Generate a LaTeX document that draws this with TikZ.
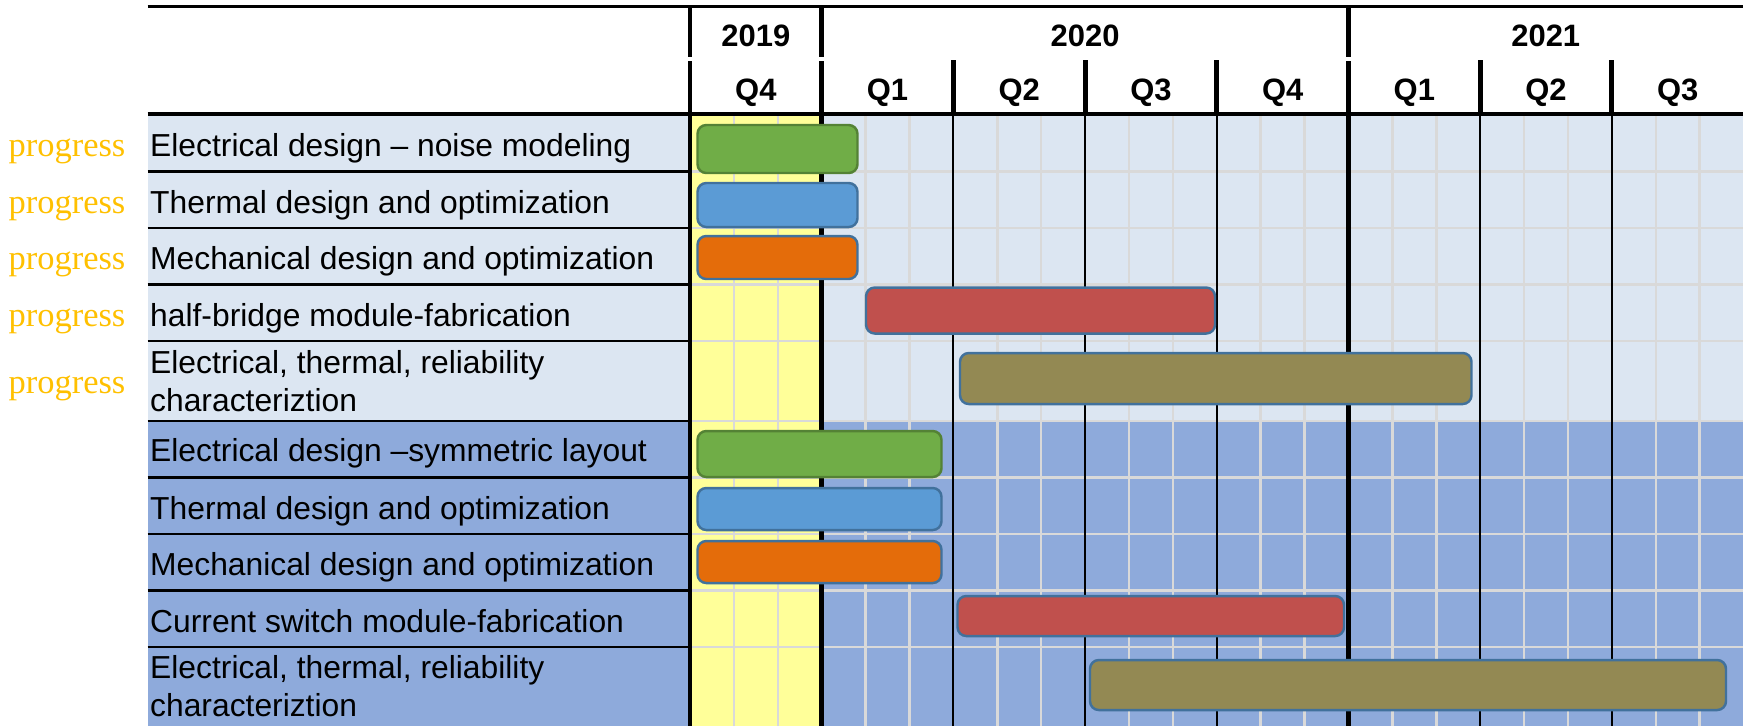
\documentclass[tikz,border=0pt]{standalone}
\usepackage{fontspec}
\setmainfont{Liberation Sans}
\newfontfamily\progfont{Liberation Serif}
\usetikzlibrary{positioning}

\definecolor{rowlight}{HTML}{DCE6F2}
\definecolor{rowdark}{HTML}{8EAADB}
\definecolor{yrcol}{HTML}{FFFF99}
\definecolor{gridgray}{HTML}{D9D9D9}
\definecolor{gold}{HTML}{FFC000}
\definecolor{bargreen}{HTML}{70AD47}
\definecolor{barblue}{HTML}{5B9BD5}
\definecolor{barorange}{HTML}{E46C0A}
\definecolor{barred}{HTML}{C0504D}
\definecolor{barolive}{HTML}{938953}
\definecolor{edgeblue}{HTML}{41719C}
\definecolor{edgegreen}{HTML}{548235}

\tikzset{
  bar/.style={draw=edgeblue, line width=0.7pt, rounded corners=2.5pt},
  task/.style={anchor=base west, inner sep=0pt, align=left,
    font=\fontsize{9.05}{10.9}\selectfont},
  prog/.style={anchor=base west, inner sep=0pt, text=gold,
    font=\progfont\fontsize{9.8}{11}\selectfont},
  head/.style={anchor=base, inner sep=0pt,
    font=\bfseries\fontsize{8.8}{10.9}\selectfont},
}

\begin{document}
\begin{tikzpicture}
    \useasboundingbox (0,0) rectangle (17.43,-7.26);

    % row bands and the 2019 column
    \fill[rowlight] (1.475,-1.15) rectangle (17.43,-4.21);
    \fill[rowdark] (1.475,-4.21) rectangle (17.43,-7.26);
    \fill[yrcol] (6.9,-1.15) rectangle (8.217,-7.26);

    % month grid
    \foreach \m in {1,2,4,5,7,8,10,11,13,14,16,17,19,20,22,23}
        \draw[gridgray, line width=0.7pt] (6.9+0.439*\m,-1.15) -- (6.9+0.439*\m,-7.26);
    \foreach \y in {1.715,2.28,2.845,3.41,4.21,4.775,5.34,5.905,6.47} {
        \draw[gridgray, line width=0.8pt] (6.9,-\y) -- (17.43,-\y);
        \draw[line width=0.7pt] (1.475,-\y) -- (6.9,-\y);
    }

    % quarter lines
    \foreach \i in {2,3,4,6,7} {
        \draw[line width=0.6pt] (6.9+1.317*\i,-1.15) -- (6.9+1.317*\i,-7.26);
        \draw[line width=1.4pt] (6.9+1.317*\i,-0.60) -- (6.9+1.317*\i,-1.15);
    }
    % year lines
    \foreach \i in {0,1,5} {
        \draw[line width=1.4pt] (6.9+1.317*\i,-0.065) -- (6.9+1.317*\i,-0.573);
        \draw[line width=1.4pt] (6.9+1.317*\i,-0.61) -- (6.9+1.317*\i,-7.26);
    }
    \draw[line width=0.85pt] (1.475,-0.065) -- (17.43,-0.065);
    \draw[line width=1.15pt] (1.475,-1.14) -- (17.43,-1.14);

    % header
    \node[head] (y2019) at (7.5585,-0.467) {2019};
    \node[head] (y2020) at (10.851,-0.467) {2020};
    \node[head] (y2021) at (15.4575,-0.467) {2021};
    \foreach \q [count=\i from 0] in {Q4,Q1,Q2,Q3,Q4,Q1,Q2,Q3}
        \node[head] (q\i) at (7.5585+1.317*\i,-1.0) {\q};

    % tasks
    \node[task] (task1) at (1.495,-1.567) {Electrical design -- noise modeling};
    \node[task] (task2) at (1.495,-2.133) {Thermal design and optimization};
    \node[task] (task3) at (1.495,-2.698) {Mechanical design and optimization};
    \node[task] (task4) at (1.495,-3.265) {half-bridge module-fabrication};
    \node[task] (task5) at (1.495,-4.117) {Electrical, thermal, reliability\\characteriztion};
    \node[task] (task6) at (1.495,-4.617) {Electrical design --symmetric layout};
    \node[task] (task7) at (1.495,-5.19) {Thermal design and optimization};
    \node[task] (task8) at (1.495,-5.755) {Mechanical design and optimization};
    \node[task] (task9) at (1.495,-6.32) {Current switch module-fabrication};
    \node[task] (task10) at (1.495,-7.167) {Electrical, thermal, reliability\\characteriztion};

    \foreach \y [count=\i] in {1.567,2.133,2.698,3.265,3.933}
        \node[prog] (prog\i) at (0.08,-\y) {progress};

    % bars
    \draw[bar, fill=bargreen, draw=edgegreen] (6.975,-1.25) rectangle (8.575,-1.73);
    \draw[bar, fill=barblue] (6.975,-1.83) rectangle (8.575,-2.27);
    \draw[bar, fill=barorange] (6.975,-2.36) rectangle (8.575,-2.79);
    \draw[bar, fill=barred] (8.66,-2.875) rectangle (12.15,-3.335);
    \draw[bar, fill=barolive] (9.6,-3.53) rectangle (14.715,-4.04);
    \draw[bar, fill=bargreen, draw=edgegreen] (6.975,-4.31) rectangle (9.415,-4.77);
    \draw[bar, fill=barblue] (6.975,-4.88) rectangle (9.415,-5.30);
    \draw[bar, fill=barorange] (6.975,-5.41) rectangle (9.415,-5.83);
    \draw[bar, fill=barred] (9.575,-5.96) rectangle (13.44,-6.36);
    \draw[bar, fill=barolive] (10.9,-6.60) rectangle (17.26,-7.10);
\end{tikzpicture}
\end{document}
